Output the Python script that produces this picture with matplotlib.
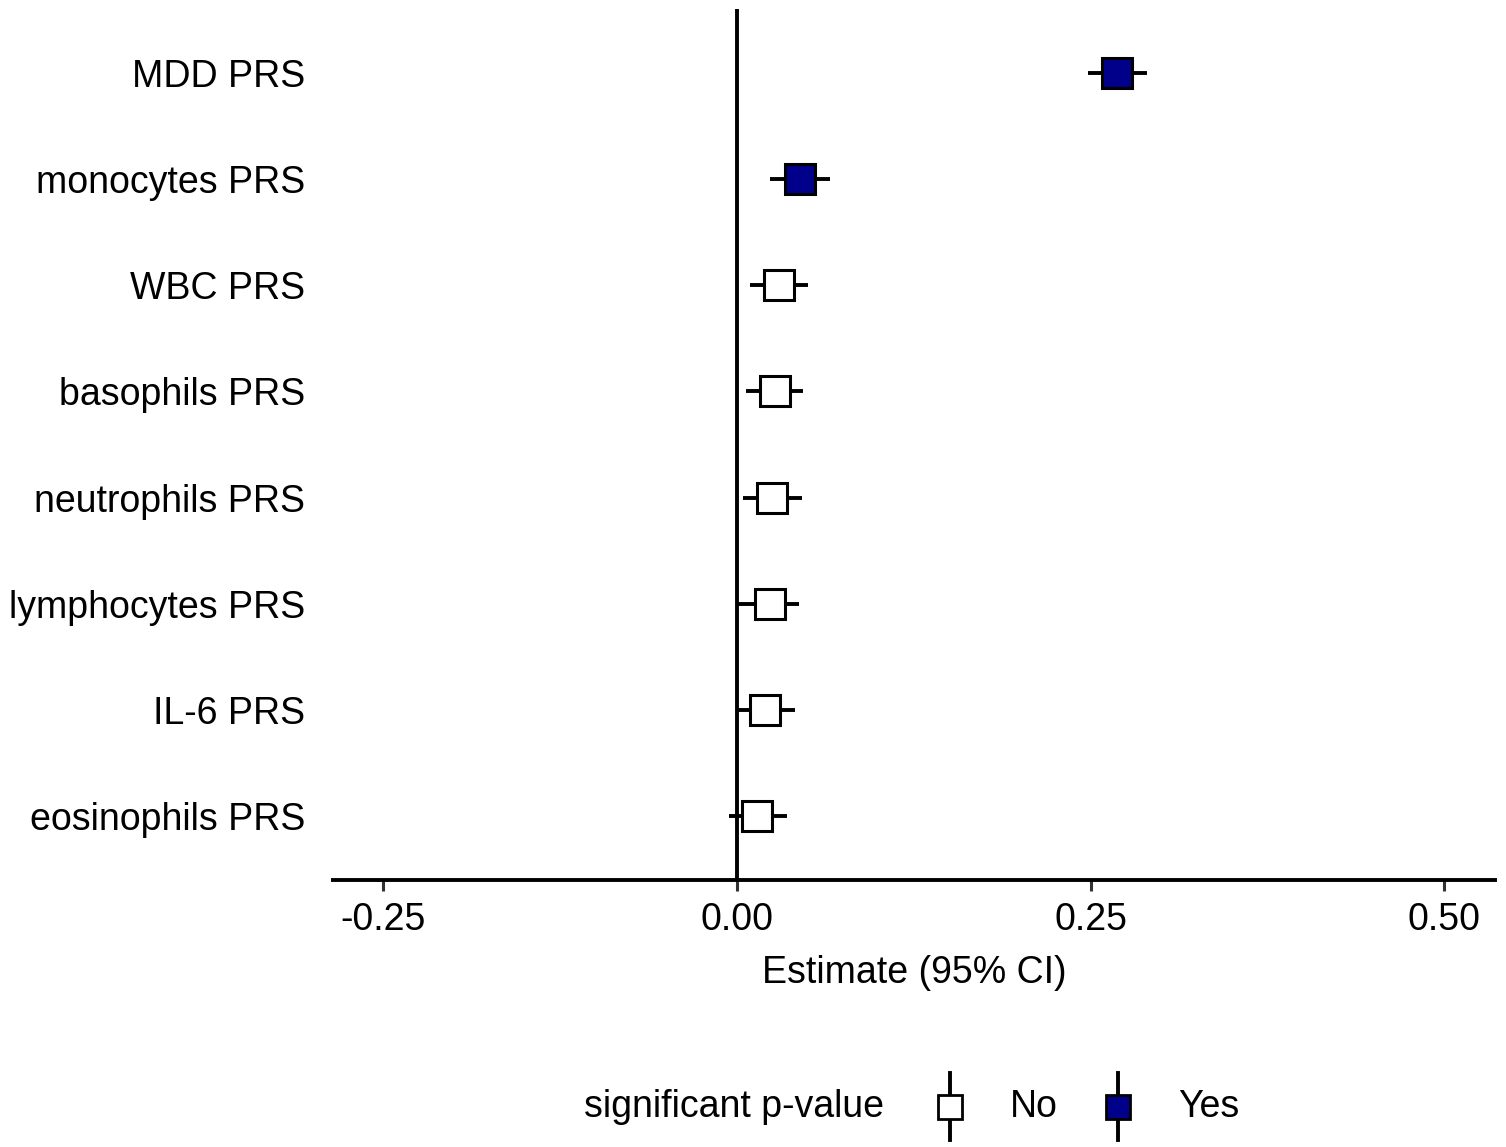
import matplotlib
matplotlib.use("Agg")
import matplotlib.pyplot as plt
from matplotlib.lines import Line2D

plt.rcParams['font.family'] = ['Liberation Sans', 'DejaVu Sans']

# Data (bottom to top)
labels = ["eosinophils PRS", "IL-6 PRS", "lymphocytes PRS", "neutrophils PRS",
          "basophils PRS", "WBC PRS", "monocytes PRS", "MDD PRS"]
estimate = [0.014, 0.020, 0.023, 0.025, 0.027, 0.030, 0.0445, 0.269]
ci_low = [-0.006, 0.000, 0.001, 0.004, 0.006, 0.009, 0.023, 0.248]
ci_high = [0.035, 0.041, 0.044, 0.046, 0.047, 0.050, 0.066, 0.290]
significant = ["No", "No", "No", "No", "No", "No", "Yes", "Yes"]
xticks = [-0.25, 0.0, 0.25, 0.50]
xticklabels = ["-0.25", "0.00", "0.25", "0.50"]

fill = {"No": "white", "Yes": "#00008B"}

fig = plt.figure(figsize=(15.06, 11.47), dpi=100)
ax = fig.add_axes([333/1506, 1-880/1147, (1495-333)/1506, (880-9)/1147])

ax.axvline(0, color="black", lw=2.8, zorder=1)

for i, (e, lo, hi, s) in enumerate(zip(estimate, ci_low, ci_high, significant)):
    ax.plot([lo, hi], [i+1, i+1], color="black", lw=2.8, solid_capstyle="butt", zorder=2)
    ax.plot([e], [i+1], marker="s", markersize=22, markerfacecolor=fill[s],
            markeredgecolor="black", markeredgewidth=2.2, zorder=3, linestyle="none")

ax.set_xlim(-0.2857, 0.536)
ax.set_ylim(0.4, 8.6)
ax.set_yticks(range(1, len(labels)+1))
ax.set_yticklabels(labels, fontsize=27, color="black")
ax.tick_params(axis="y", length=0, pad=20)
ax.set_xticks(xticks)
ax.set_xticklabels(xticklabels, fontsize=27, color="black")
ax.tick_params(axis="x", length=8, width=2.2, color="#333333", pad=8)
for sp in ["top", "right", "left"]:
    ax.spines[sp].set_visible(False)
ax.spines["bottom"].set_linewidth(2.8)
ax.set_xlabel("Estimate (95% CI)", fontsize=27, labelpad=12)

# Legend (manual)
ly = 1 - 1107/1147
fig.text(584/1506, ly, "significant p-value", fontsize=27, va="center", ha="left")
for xk, lab, s in [(950, "No", "No"), (1118, "Yes", "Yes")]:
    xf = xk/1506
    fig.add_artist(Line2D([xf, xf], [1-1073/1147, 1-1140/1147], transform=fig.transFigure,
                          color="black", lw=2.8))
    fig.add_artist(Line2D([xf], [ly], transform=fig.transFigure, marker="s",
                          markersize=17, markerfacecolor=fill[s], markeredgecolor="black",
                          markeredgewidth=2.0, linestyle="none"))
    fig.text((xk+60)/1506, ly, lab, fontsize=27, va="center", ha="left")

fig.savefig("out.png", dpi=100)
